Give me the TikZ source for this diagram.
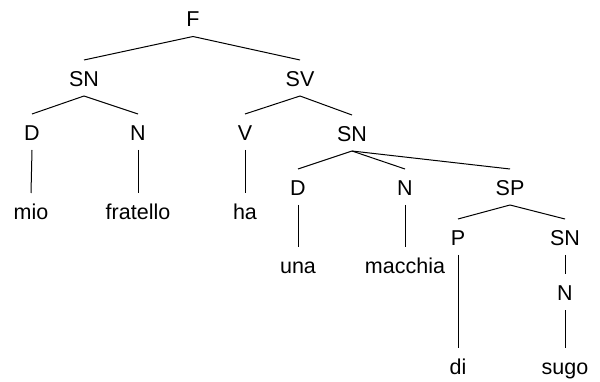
\documentclass[tikz,border=0pt]{standalone}
\usepackage{fontspec}
\setmainfont{Liberation Sans}
\tikzset{
  treenode/.style = {anchor=base, inner xsep=0pt, inner ysep=4pt,
    text height=22pt, text depth=5pt, font=\fontsize{21.5}{26}\selectfont},
  cat_n/.style = {treenode},
  word_n/.style = {treenode}
}

\begin{document}
\begin{tikzpicture}[x=1pt,y=-1pt,line width=1pt]
\useasboundingbox (0,0) rectangle (600,382);
% categories
\node [cat_n] (F)   at (193,27)    {F};
\node [cat_n] (SNa) at (84,86.5)   {SN};
\node [cat_n] (SV)  at (300,86.5)  {SV};
\node [cat_n] (Da)  at (32,140.5)  {D};
\node [cat_n] (Na)  at (138,140.5) {N};
\node [cat_n] (V)   at (245,140.5) {V};
\node [cat_n] (SNb) at (352,141.5) {SN};
\node [cat_n] (Db)  at (298,195.5) {D};
\node [cat_n] (Nb)  at (405,195.5) {N};
\node [cat_n] (SP)  at (510,195.5) {SP};
\node [cat_n] (P)   at (458,245.5) {P};
\node [cat_n] (SNc) at (565,245.5) {SN};
\node [cat_n] (Nc)  at (565,300.5) {N};
% words
\node [word_n] (mio)      at (31,219.5)  {mio};
\node [word_n] (fratello) at (138,219.5) {fratello};
\node [word_n] (ha)       at (245,219.5) {ha};
\node [word_n] (una)      at (298,273.5) {una};
\node [word_n] (macchia)  at (405,273.5) {macchia};
\node [word_n] (di)       at (458,374)   {di};
\node [word_n] (sugo)     at (565,374)   {sugo};

\foreach \p/\c in {F/SNa, F/SV, SNa/Da, SNa/Na, SV/V, SV/SNb,
    Da/mio, Na/fratello, V/ha, SNb/Db, SNb/Nb, SNb/SP,
    Db/una, Nb/macchia, SP/P, SP/SNc, P/di, SNc/Nc, Nc/sugo}
  \draw (\p.south) -- (\c.north);
\end{tikzpicture}
\end{document}
